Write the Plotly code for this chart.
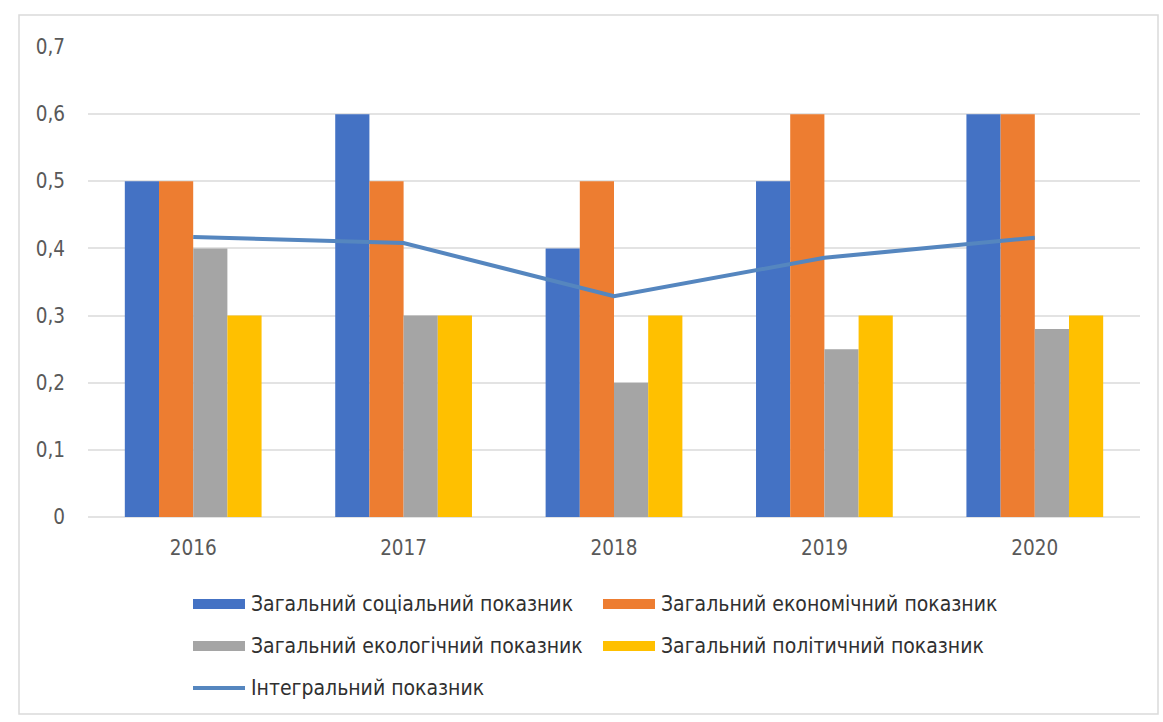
import plotly.graph_objects as go

years = ["2016", "2017", "2018", "2019", "2020"]
social = [0.5, 0.6, 0.4, 0.5, 0.6]
economic = [0.5, 0.5, 0.5, 0.6, 0.6]
ecological = [0.4, 0.3, 0.2, 0.25, 0.28]
political = [0.3, 0.3, 0.3, 0.3, 0.3]
integral = [0.417, 0.408, 0.329, 0.386, 0.416]

names = [
    "Загальний соціальний показник",
    "Загальний економічний показник",
    "Загальний екологічний показник",
    "Загальний політичний показник",
]
colors = ["#4472C4", "#ED7D31", "#A5A5A5", "#FFC000"]
line_name = "Інтегральний показник"
line_color = "#5586BF"

W, H = 1163, 722
ML, MR, MT, MB = 88, 23, 47, 205
PW, PH = W - ML - MR, H - MT - MB
FONT = "DejaVu Sans Condensed, DejaVu Sans, sans-serif"


def px(x):
    return (x - ML) / PW


def py(y):
    return (H - MB - y) / PH


fig = go.Figure()

for vals, name, col in zip([social, economic, ecological, political], names, colors):
    fig.add_trace(go.Bar(x=years, y=vals, name=name, marker_color=col,
                         marker_line_width=0))

fig.add_trace(go.Scatter(x=years, y=integral, mode="lines", name=line_name,
                         line=dict(color=line_color, width=4)))

# hand-placed legend: two columns, three rows
shapes = [dict(type="rect", xref="paper", yref="paper",
               x0=px(19), x1=px(1158), y0=py(714), y1=py(15),
               line=dict(color="#DADADA", width=1.5), fillcolor="rgba(0,0,0,0)",
               layer="below")]
annotations = []
entries = [(names[0], colors[0], 193, 604, 10),
           (names[1], colors[1], 603, 604, 10),
           (names[2], colors[2], 193, 646, 10),
           (names[3], colors[3], 603, 646, 10),
           (line_name, line_color, 193, 688, 4)]
for name, col, x0, yc, th in entries:
    shapes.append(dict(type="rect", xref="paper", yref="paper",
                       x0=px(x0), x1=px(x0 + 52), y0=py(yc + th / 2), y1=py(yc - th / 2),
                       line_width=0, fillcolor=col))
    annotations.append(dict(xref="paper", yref="paper", x=px(x0 + 56), y=py(yc),
                            xanchor="left", yanchor="middle", showarrow=False,
                            text=name, font=dict(family=FONT, size=21, color="#303030")))

fig.update_layout(
    width=W, height=H,
    margin=dict(l=ML, r=MR, t=MT, b=MB),
    paper_bgcolor="white", plot_bgcolor="white",
    separators=", ",
    showlegend=False,
    barmode="group", bargap=0.35, bargroupgap=0,
    font=dict(family=FONT, size=20.5, color="#595959"),
    xaxis=dict(showgrid=False, showline=False, ticks="", ticklabelstandoff=16),
    yaxis=dict(range=[0, 0.7], dtick=0.1, tickformat=".1~f", showgrid=True,
               gridcolor="#E3E3E3", gridwidth=1.5, zeroline=True,
               zerolinecolor="#E3E3E3", zerolinewidth=1.5, showline=False,
               ticks="", ticklabelstandoff=22),
    shapes=shapes,
    annotations=annotations,
)

fig.write_html("out.html")
